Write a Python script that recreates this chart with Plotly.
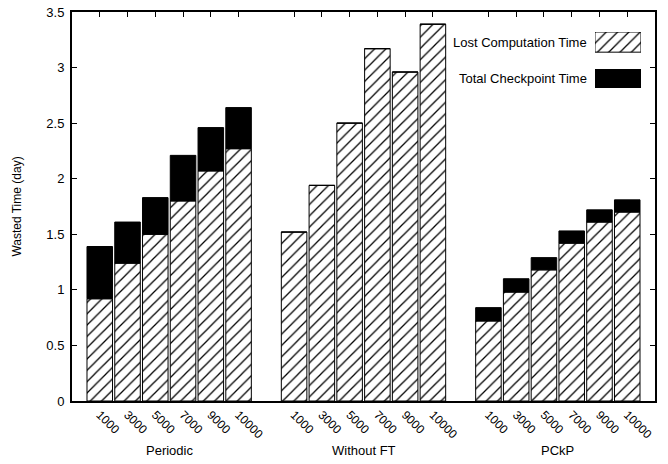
import plotly.graph_objects as go

# Wasted time per strategy and node count
groups = ["Periodic", "Without FT", "PCkP"]
node_counts = ["1000", "3000", "5000", "7000", "9000", "10000"]

lost_computation = {
    "Periodic":   [0.92, 1.24, 1.50, 1.80, 2.07, 2.27],
    "Without FT": [1.52, 1.94, 2.50, 3.17, 2.96, 3.39],
    "PCkP":       [0.72, 0.98, 1.18, 1.42, 1.61, 1.70],
}
checkpoint_time = {
    "Periodic":   [0.47, 0.37, 0.33, 0.41, 0.39, 0.37],
    "Without FT": [0.0, 0.0, 0.0, 0.0, 0.0, 0.0],
    "PCkP":       [0.12, 0.12, 0.11, 0.11, 0.11, 0.11],
}

y_ticks = [0, 0.5, 1, 1.5, 2, 2.5, 3, 3.5]

FONT = "Liberation Sans, Arial, Helvetica, sans-serif"
HATCH = dict(shape="/", fgcolor="black", fgopacity=1, bgcolor="white", size=8, solidity=0.16)
SLOTS_PER_GROUP = len(node_counts) + 1   # one empty slot between groups

xs, lost, ckpt, labels = [], [], [], []
for g, name in enumerate(groups):
    for i, n in enumerate(node_counts):
        xs.append(g * SLOTS_PER_GROUP + i)
        lost.append(lost_computation[name][i])
        ckpt.append(checkpoint_time[name][i])
        labels.append(n)

fig = go.Figure()

fig.add_trace(go.Bar(
    x=xs, y=lost, width=0.92,
    marker=dict(color="white", pattern=HATCH, line=dict(color="black", width=1)),
    name="Lost Computation Time", showlegend=False,
))
fig.add_trace(go.Bar(
    x=xs, y=ckpt, base=lost, width=0.92,
    marker=dict(color="black", line=dict(color="black", width=1)),
    name="Total Checkpoint Time", showlegend=False,
))

# Legend keys, drawn in a small overlay subplot to the right of the labels
fig.add_trace(go.Bar(
    x=[0.5], y=[0.36], base=[0.64], width=1, xaxis="x3", yaxis="y3",
    marker=dict(color="white", pattern=HATCH, line=dict(color="black", width=1)),
    showlegend=False, hoverinfo="skip",
))
fig.add_trace(go.Bar(
    x=[0.5], y=[0.33], base=[0.0], width=1, xaxis="x3", yaxis="y3",
    marker=dict(color="black", line=dict(color="black", width=1)),
    showlegend=False, hoverinfo="skip",
))

n_slots = len(groups) * SLOTS_PER_GROUP - 1
x_range = [-1, n_slots]

fig.update_layout(
    width=668, height=464,
    margin=dict(l=72, r=13, t=12, b=63),
    paper_bgcolor="white", plot_bgcolor="white",
    barmode="overlay",
    font=dict(family=FONT, size=13, color="black"),
    xaxis=dict(
        range=x_range, tickmode="array", tickvals=xs, ticktext=labels,
        tickangle=45, ticks="inside", ticklen=5, tickwidth=1, tickcolor="black",
        showline=True, linecolor="black", linewidth=2, mirror="ticks",
        showgrid=False, zeroline=False, layer="below traces",
        tickfont=dict(size=12), automargin=False,
    ),
    yaxis=dict(
        range=[0, 3.5], tickmode="array", tickvals=y_ticks,
        ticks="inside", ticklen=5, tickwidth=1, tickcolor="black",
        showline=True, linecolor="black", linewidth=2, mirror="ticks",
        showgrid=False, zeroline=False, automargin=False,
        tickfont=dict(size=13), ticklabelstandoff=3,
        title=dict(text="Wasted Time (day)", font=dict(size=12), standoff=22),
    ),
    xaxis3=dict(domain=[0.897, 0.976], range=[0, 1], anchor="y3",
                visible=False, fixedrange=True),
    yaxis3=dict(domain=[0.8046, 0.9486], range=[0, 1], anchor="x3",
                visible=False, fixedrange=True),
)

# Legend labels
fig.add_annotation(text="Lost Computation Time", xref="paper", yref="paper",
                   x=0.886, y=0.921, xanchor="right", yanchor="middle",
                   showarrow=False, font=dict(size=13))
fig.add_annotation(text="Total Checkpoint Time", xref="paper", yref="paper",
                   x=0.886, y=0.828, xanchor="right", yanchor="middle",
                   showarrow=False, font=dict(size=13))

# Group names under each cluster of bars
for g, name in enumerate(groups):
    center = g * SLOTS_PER_GROUP + (len(node_counts) - 1) / 2
    fig.add_annotation(text=name, x=center, xref="x", y=-0.1285, yref="paper",
                       xanchor="center", yanchor="middle", showarrow=False,
                       font=dict(size=13))

fig.write_html("out.html")
